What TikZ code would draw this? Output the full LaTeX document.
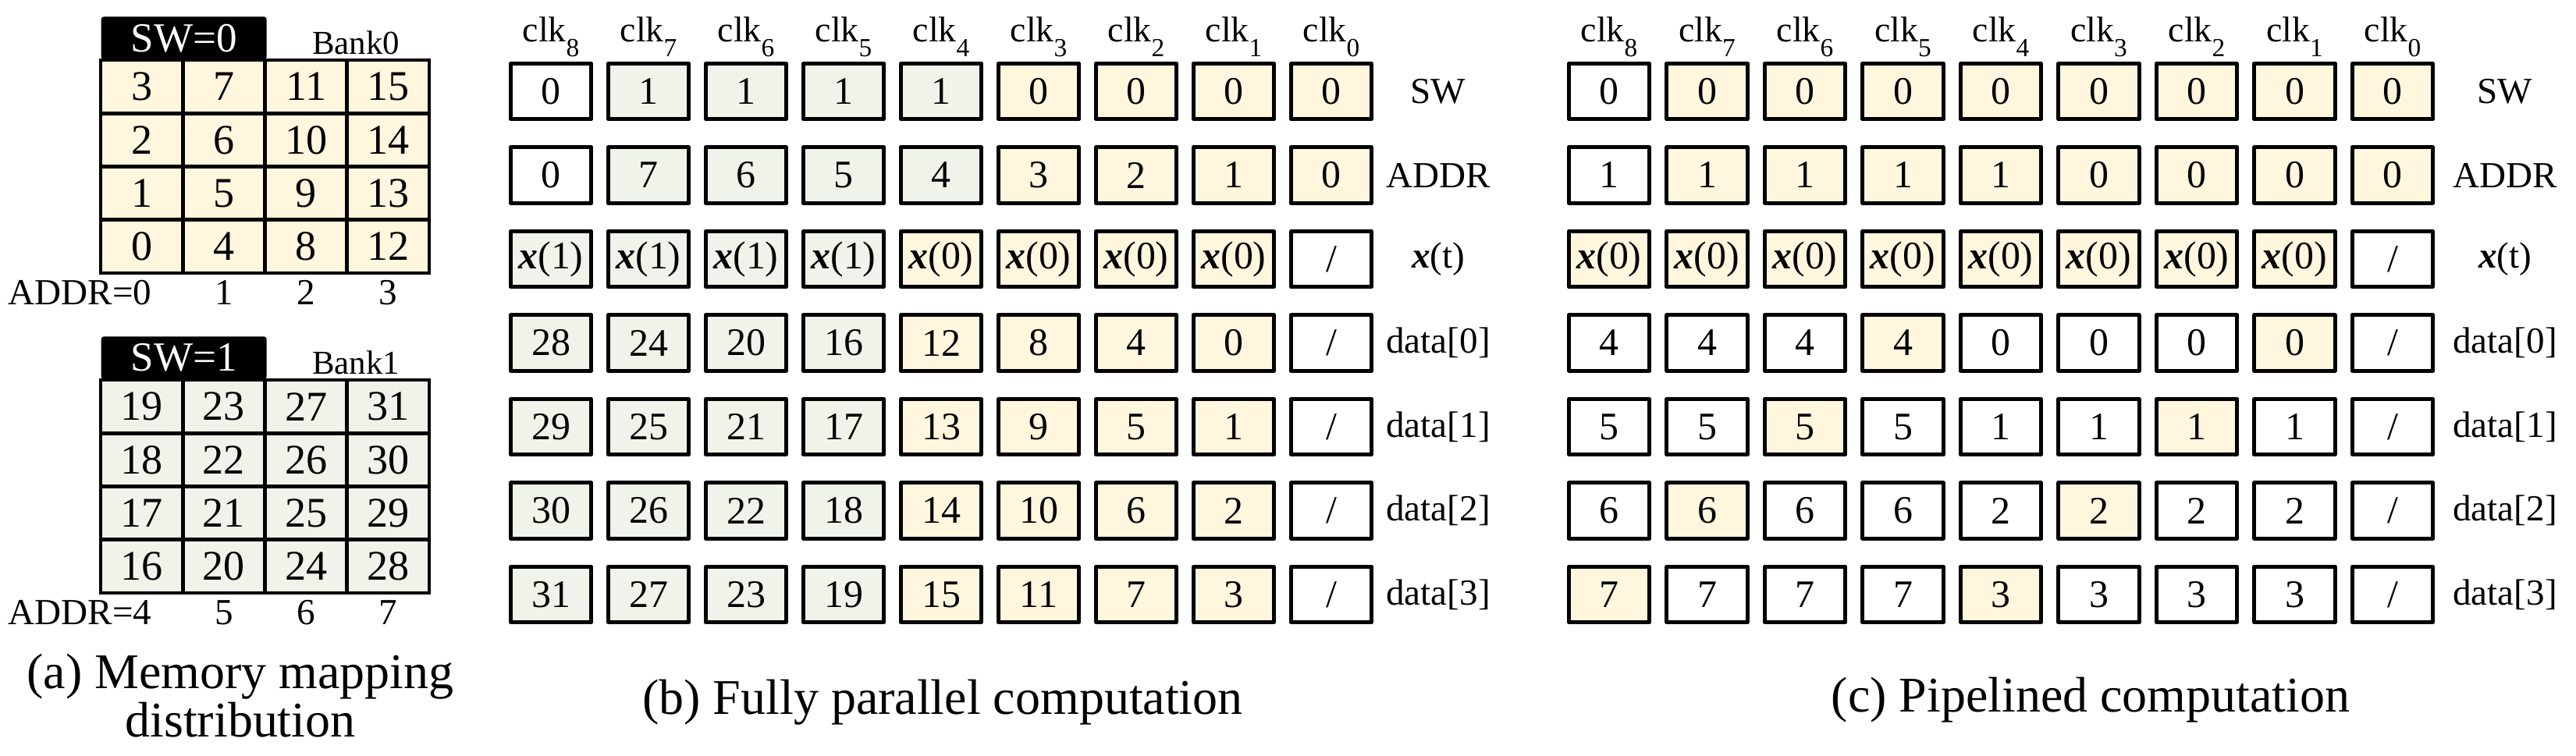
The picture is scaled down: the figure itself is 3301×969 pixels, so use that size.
\documentclass[tikz,border=0pt]{standalone}
\usepackage{fontspec}
\setmainfont{Liberation Serif}
\usetikzlibrary{positioning}
\definecolor{cellY}{RGB}{255,246,222}
\definecolor{cellG}{RGB}{240,243,233}
\newcommand{\xv}[1]{\textbf{\textit{x}}(#1)}
\newcommand{\clk}[1]{clk\raisebox{-5.5pt}{\fontsize{9.5}{10}\selectfont #1}}

\begin{document}
\begin{tikzpicture}[x=0.1mm, y=-0.1mm,
    every node/.style={inner sep=0pt},
    cell/.style={draw, line width=1.4pt, line join=round, minimum width=10.35mm,
      minimum height=7.15mm, font=\fontsize{14.2}{17}\selectfont},
    grid/.style={draw, line width=1.4pt, minimum width=10.525mm,
      minimum height=6.825mm, font=\fontsize{15.4}{18}\selectfont},
    swbox/.style={fill=black, text=white, rounded corners=1pt, minimum width=21.2mm,
      minimum height=5.5mm, font=\fontsize{15.1}{18}\selectfont},
    lbl/.style={font=\fontsize{13.4}{16}\selectfont},
    clkl/.style={anchor=base, font=\fontsize{13}{15}\selectfont},
    captxt/.style={align=center, font=\fontsize{18.2}{17.6}\selectfont}
  ]
  \useasboundingbox (0,0) rectangle (3301,969);

  % (a) the two banks
  \foreach \b/\dy/\fc in {0/0/cellY, 1/410/cellG} {
    \node[swbox, anchor=south west] (sw\b) at (129,77+\dy) {SW=\b};
    \node[font=\fontsize{12.2}{14}\selectfont] (bank\b) at (456,55+\dy) {Bank\b};
    \foreach \c in {0,...,3}
      \foreach \r in {0,...,3} {
        \pgfmathtruncatemacro\v{16*\b+4*\c+3-\r}
        \node[grid, fill=\fc] (m\b-\r\c) at (181.6+105.25*\c,111.1+68.25*\r+\dy) {\v};
      }
    \pgfmathtruncatemacro\a{4*\b}
    \node[lbl, anchor=east] (addr\b) at (195,375+\dy) {ADDR=\a};
    \foreach \c in {1,2,3} {
      \pgfmathtruncatemacro\a{4*\b+\c}
      \node[lbl] (addr\b-\c) at (181.6+105.25*\c,375+\dy) {\a};
    }
  }
  \node[captxt] (capa) at (308,892) {(a) Memory mapping\\distribution};

  % (b) fully parallel
  \foreach \i in {0,...,8} {
    \pgfmathtruncatemacro\k{8-\i}
    \node[clkl] (bclk\i) at (706+125*\i,53) {\clk{\k}};
  }
  \foreach \row [count=\j from 0] in {
      {0/white,1/cellG,1/cellG,1/cellG,1/cellG,0/cellY,0/cellY,0/cellY,0/cellY},
      {0/white,7/cellG,6/cellG,5/cellG,4/cellG,3/cellY,2/cellY,1/cellY,0/cellY},
      {\xv{1}/cellG,\xv{1}/cellG,\xv{1}/cellG,\xv{1}/cellG,\xv{0}/cellY,\xv{0}/cellY,\xv{0}/cellY,\xv{0}/cellY,\slash/white},
      {28/cellG,24/cellG,20/cellG,16/cellG,12/cellY,8/cellY,4/cellY,0/cellY,\slash/white},
      {29/cellG,25/cellG,21/cellG,17/cellG,13/cellY,9/cellY,5/cellY,1/cellY,\slash/white},
      {30/cellG,26/cellG,22/cellG,18/cellG,14/cellY,10/cellY,6/cellY,2/cellY,\slash/white},
      {31/cellG,27/cellG,23/cellG,19/cellG,15/cellY,11/cellY,7/cellY,3/cellY,\slash/white}} {
    \foreach \v/\f [count=\i from 0] in \row
      \node[cell, fill=\f] (b\j-\i) at (706+125*\i,117+107.5*\j) {\v};
  }
  \foreach \name [count=\j from 0] in {SW,ADDR,\xv{t},data[0],data[1],data[2],data[3]}
    \node[lbl] (blab\j) at (1843,117+107.5*\j) {\name};
  \node[captxt, anchor=base] (capb) at (1208,915) {(b) Fully parallel computation};

  % (c) pipelined
  \foreach \i in {0,...,8} {
    \pgfmathtruncatemacro\k{8-\i}
    \node[clkl] (cclk\i) at (2062+125.5*\i,53) {\clk{\k}};
  }
  \foreach \row [count=\j from 0] in {
      {0/white,0/cellY,0/cellY,0/cellY,0/cellY,0/cellY,0/cellY,0/cellY,0/cellY},
      {1/white,1/cellY,1/cellY,1/cellY,1/cellY,0/cellY,0/cellY,0/cellY,0/cellY},
      {\xv{0}/cellY,\xv{0}/cellY,\xv{0}/cellY,\xv{0}/cellY,\xv{0}/cellY,\xv{0}/cellY,\xv{0}/cellY,\xv{0}/cellY,\slash/white},
      {4/white,4/white,4/white,4/cellY,0/white,0/white,0/white,0/cellY,\slash/white},
      {5/white,5/white,5/cellY,5/white,1/white,1/white,1/cellY,1/white,\slash/white},
      {6/white,6/cellY,6/white,6/white,2/white,2/cellY,2/white,2/white,\slash/white},
      {7/cellY,7/white,7/white,7/white,3/cellY,3/white,3/white,3/white,\slash/white}} {
    \foreach \v/\f [count=\i from 0] in \row
      \node[cell, fill=\f] (c\j-\i) at (2062+125.5*\i,117+107.5*\j) {\v};
  }
  \foreach \name [count=\j from 0] in {SW,ADDR,\xv{t},data[0],data[1],data[2],data[3]}
    \node[lbl] (clab\j) at (3210,117+107.5*\j) {\name};
  \node[captxt, anchor=base] (capc) at (2679,912) {(c) Pipelined computation};
\end{tikzpicture}
\end{document}
